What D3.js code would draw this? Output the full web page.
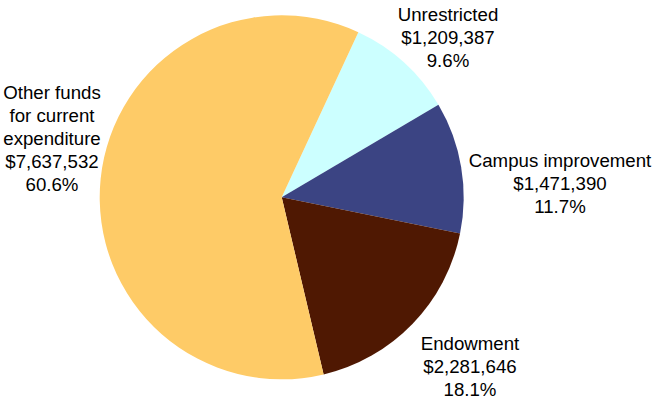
<!DOCTYPE html>
<html><head><meta charset="utf-8">
<script src="https://cdn.jsdelivr.net/npm/d3@7"></script>
<style>html,body{margin:0;padding:0;background:#fff;}svg{display:block;}</style>
</head><body>
<script>
const categories = ["Unrestricted", "Campus improvement", "Endowment", "Other funds for current expenditure"];
const values = [1209387, 1471390, 2281646, 7637532];
const colors = ["#CCFFFF", "#3B4483", "#4F1802", "#FECB67"];
// label text lines (name lines), value and percent derived from data
const nameLines = [["Unrestricted"], ["Campus improvement"], ["Endowment"], ["Other funds", "for current", "expenditure"]];
// label layout: center x and first baseline y
const labelPos = [[448, 21], [560, 167], [470, 350], [52, 99]];

const W = 657, H = 407;
const svg = d3.select("body").append("svg").attr("width", W).attr("height", H);
const cx = 281.7, cy = 197.3, R = 182;
const total = d3.sum(values);
const start = 24.9 * Math.PI / 180;
const pie = d3.pie().sort(null).startAngle(start).endAngle(start + 2 * Math.PI);
const arcs = pie(values);
const arc = d3.arc().innerRadius(0).outerRadius(R);
const g = svg.append("g").attr("transform", `translate(${cx},${cy})`);
g.selectAll("path").data(arcs).join("path")
  .attr("d", arc).attr("fill", (d, i) => colors[i]);

const fmt = d3.format("$,");
const pct = v => (v / total * 100).toFixed(1) + "%";
categories.forEach((c, i) => {
  const lines = nameLines[i].concat([fmt(values[i]), pct(values[i])]);
  const t = svg.append("text")
    .attr("font-family", "Liberation Sans, Arial, sans-serif")
    .attr("font-size", "18.67px").attr("fill", "#000")
    .attr("text-anchor", "middle");
  lines.forEach((l, k) => {
    t.append("tspan").attr("x", labelPos[i][0]).attr("y", labelPos[i][1] + k * 23).text(l);
  });
});
</script>
</body></html>
